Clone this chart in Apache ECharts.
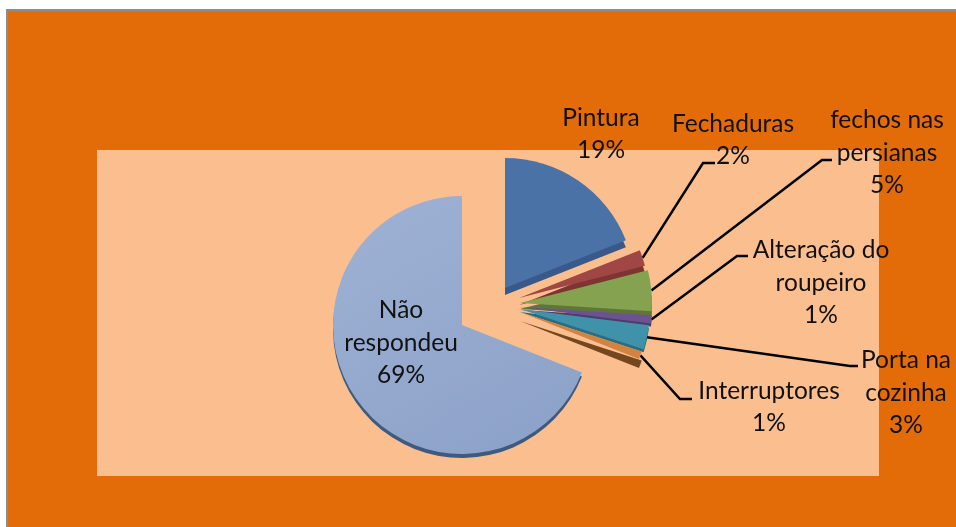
<!DOCTYPE html>
<html>
<head>
<meta charset="utf-8">
<style>html,body{margin:0;padding:0;background:#fff}#c{width:956px;height:527px}</style>
<script src="https://cdn.jsdelivr.net/npm/echarts@6/dist/echarts.min.js"></script>
</head>
<body>
<div id="c"></div>
<script>
const categories = ['Pintura', 'Fechaduras', 'fechos nas\npersianas', 'Alteração do\nroupeiro', 'Porta na\ncozinha', 'Interruptores', 'Não\nrespondeu'];
const values = [19, 2, 5, 1, 3, 1, 69];
const topColors = ['#4A72A6', '#A04644', '#84A24F', '#6B5291', '#3F92AA', '#D1833F', '#95A9CE'];
const sideColors = ['#38598A', '#7E3432', '#5F7639', '#4E3B6C', '#2C6C80', '#75471F', '#3F5A80'];
const slicePlaces = [
  { center: [505, 288], depth: 7, radius: 130 },
  { center: [519, 298], depth: 7, radius: 130 },
  { center: [520, 303], depth: 6, radius: 132 },
  { center: [520, 307], depth: 3, radius: 132 },
  { center: [520, 309], depth: 3, radius: 130 },
  { center: [520, 312], depth: 9, radius: 128 },
  { center: [462, 325], depth: 4, radius: 129 }
];
const labelPlaces = [
  { x: 601, y: 134 },
  { x: 733, y: 140, elbow: [703, 163], end: [715, 163] },
  { x: 887, y: 153, elbow: [822, 160], end: [832, 160] },
  { x: 821, y: 283, elbow: [737, 256], end: [748, 256] },
  { x: 906, y: 393, elbow: [850, 366], end: [858, 366] },
  { x: 769, y: 407, elbow: [680, 399], end: [692, 399] },
  { x: 401, y: 343 }
];

function faceData(k, colors, withLabels) {
  return categories.map((name, i) => {
    const on = i === k;
    return {
      name, value: values[i],
      itemStyle: { color: on ? (i === 6 && withLabels
        ? { type: 'linear', x: 0, y: 0, x2: 0.6, y2: 1, colorStops: [{ offset: 0, color: '#9FB2D5' }, { offset: 1, color: '#8EA3C9' }] }
        : colors[i]) : 'rgba(0,0,0,0)' },
      label: { show: on && withLabels },
      labelLine: { show: on && withLabels && !!labelPlaces[i].elbow }
    };
  });
}

const series = [];
slicePlaces.forEach((g, k) => {
  const base = { type: 'pie', startAngle: 90, clockwise: true, animation: false, silent: true,
    radius: [0, g.radius], avoidLabelOverlap: false, minShowLabelAngle: 0, emphasis: { disabled: true } };
  series.push(Object.assign({}, base, {
    z: 2, center: [g.center[0], g.center[1] + g.depth],
    data: faceData(k, sideColors, false), label: { show: false }, labelLine: { show: false }
  }));
  series.push(Object.assign({}, base, {
    z: 3, center: g.center,
    data: faceData(k, topColors, true),
    label: {
      position: 'outside', color: '#111', fontFamily: 'Lato', fontSize: 24.5, lineHeight: 32.5, align: 'center',
      formatter: p => p.name + '\n' + values[p.dataIndex] + '%'
    },
    labelLine: { show: true, lineStyle: { color: '#000', width: 2.5 } },
    labelLayout: p => {
      const place = labelPlaces[p.dataIndex];
      const out = { x: place.x, y: place.y, align: 'center', verticalAlign: 'middle' };
      if (place.elbow && p.labelLinePoints) {
        out.labelLinePoints = [p.labelLinePoints[0], place.elbow, place.end];
      }
      return out;
    }
  }));
});

const chart = echarts.init(document.getElementById('c'), null, { renderer: 'canvas' });
chart.setOption({
  animation: false,
  backgroundColor: '#fff',
  graphic: [
    { type: 'rect', z: 0, silent: true, shape: { x: 6, y: 9, width: 950, height: 518 }, style: { fill: '#8C8C8C' } },
    { type: 'rect', z: 0, silent: true, shape: { x: 8, y: 11, width: 948, height: 516 }, style: { fill: '#E36C09' } },
    { type: 'rect', z: 1, silent: true, shape: { x: 97, y: 150, width: 782, height: 326 }, style: { fill: '#FBBF8F' } }
  ],
  series
});
</script>
</body>
</html>
